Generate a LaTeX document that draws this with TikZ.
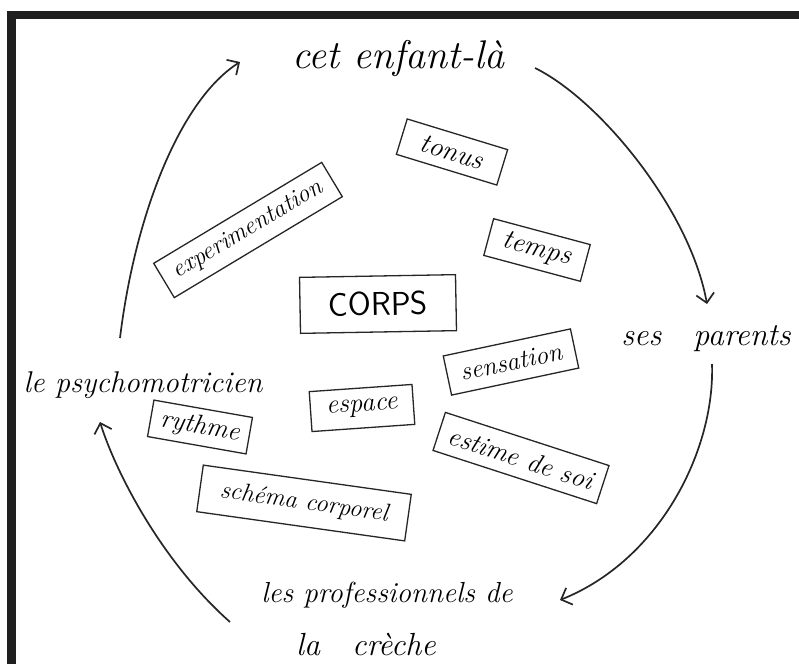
\documentclass[tikz,border=0pt]{standalone}
\usetikzlibrary{arrows.meta}
\newcommand{\hwsize}[1]{\fontsize{#1}{#1}\selectfont}
\begin{document}
\begin{tikzpicture}[x=1pt,y=-1pt,
  hand/.style={font=\itshape, text=black, inner sep=0pt},
  wbox/.style={draw=black!85, line width=1.3pt, inner sep=0pt, font=\itshape, text=black},
  link/.style={draw=black!85, line width=1.7pt, -{Straight Barb[length=9pt,width=18pt]}}]
\useasboundingbox (0,0) rectangle (799,664);
\fill[white] (0,0) rectangle (799,664);
\fill[black!88] (7,11) rectangle (799,19);
\fill[black!88] (7,11) rectangle (16,664);

% outer labels
\node[hand, anchor=base] (enfant) at (398,68) {\hwsize{40}cet enfant-là};
\node[hand, anchor=base] (parents) at (706,345) {\hwsize{32}ses\quad parents};
\node[hand, anchor=base] (psy) at (143,392) {\hwsize{30}le psychomotricien};
\node[hand, anchor=base] (prof) at (387,602) {\hwsize{29}les professionnels de};
\node[hand, anchor=base] (creche) at (366,655) {\hwsize{32}la\quad crèche};

% boxes
\node[wbox, minimum width=105pt, minimum height=37pt, rotate=-17] (tonus) at (452,152) {\hwsize{28}tonus};
\node[wbox, minimum width=196pt, minimum height=40pt, rotate=31] (exp) at (248,230) {\hwsize{25}experimentation};
\node[wbox, minimum width=100pt, minimum height=38pt, rotate=-15] (temps) at (537,250) {\hwsize{28}temps};
\node[wbox, minimum width=156pt, minimum height=56pt, rotate=1, font=\sffamily] (corps) at (378,304) {\hwsize{33}CORPS};
\node[wbox, minimum width=130pt, minimum height=40pt, rotate=12] (sens) at (511,362) {\hwsize{26}sensation};
\node[wbox, minimum width=172pt, minimum height=40pt, rotate=-18] (estime) at (521,458) {\hwsize{27}estime de soi};
\node[wbox, minimum width=103pt, minimum height=40pt, rotate=4] (espace) at (362,408) {\hwsize{27}espace};
\node[wbox, minimum width=100pt, minimum height=37pt, rotate=-10] (rythme) at (200,427) {\hwsize{27}rythme};
\node[wbox, minimum width=210pt, minimum height=47pt, rotate=-8] (schema) at (304,503) {\hwsize{25}schéma corporel};

% connector ends
\coordinate (psyOut) at (120,338);
\coordinate (enfIn) at (240,62);
\coordinate (enfOut) at (535,68);
\coordinate (parIn) at (707,304);
\coordinate (parOut) at (712,364);
\coordinate (creIn) at (560,600);
\coordinate (creOut) at (230,622);
\coordinate (psyIn) at (100,422);

\draw[link] (psyOut) .. controls (135,215) and (180,100) .. (enfIn);
\draw[link] (enfOut) .. controls (600,100) and (690,210) .. (parIn);
\draw[link] (parOut) .. controls (715,450) and (660,560) .. (creIn);
\draw[link] (creOut) .. controls (160,560) and (115,470) .. (psyIn);
\end{tikzpicture}
\end{document}
